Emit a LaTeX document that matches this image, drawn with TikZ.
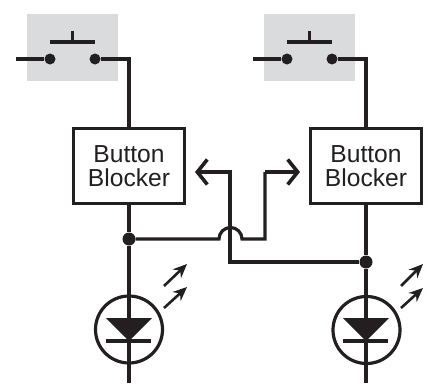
\documentclass[tikz,border=0pt]{standalone}
\usepackage{fontspec}
\setmainfont{Liberation Sans}
\usetikzlibrary{arrows.meta,positioning}
\definecolor{ink}{RGB}{35,31,32}
\definecolor{panel}{RGB}{218,219,221}
\tikzset{
  wire/.style={draw=ink,line width=3.2pt},
  blockerbox/.style={draw=ink,line width=3.6pt,fill=white,text=ink,font=\fontsize{24.6}{23.5}\selectfont,align=center,minimum width=111pt,minimum height=75pt,inner sep=0pt},
  panelbox/.style={fill=panel,minimum width=91pt,minimum height=67pt,inner sep=0pt},
  contact/.style={circle,fill=ink,minimum size=11pt,inner sep=0pt},
  junction/.style={circle,fill=ink,minimum size=13pt,inner sep=0pt},
  ledring/.style={circle,draw=ink,line width=3.2pt,minimum size=67pt,inner sep=0pt},
  feedback/.style={wire,-{Straight Barb[length=10pt,width=25pt,line width=3.6pt]}},
  lightray/.style={draw=ink,line width=2.6pt,-{Stealth[length=14pt,width=12pt]}}
}
\begin{document}
\begin{tikzpicture}[x=1pt,y=-1pt]
        \useasboundingbox (0,0) rectangle (428,383);
        % switches
        \node[panelbox] (panelL) at (72.5,47.5) {};
        \node[panelbox] (panelR) at (309.5,47.5) {};
        \node[contact] (inL) at (50,59) {};
        \node[contact] (outL) at (95,59) {};
        \node[contact] (inR) at (287,59) {};
        \node[contact] (outR) at (332,59) {};
        \coordinate (feedL) at (16,59); \coordinate (feedR) at (253,59);
        \coordinate (capL) at (72.5,42); \coordinate (capR) at (309.5,42);
        \draw[wire] (feedL) -- (inL); \draw[wire] (feedR) -- (inR);
        \draw[wire] (inL |- capL) -- (outL |- capL); \draw[wire] (inR |- capR) -- (outR |- capR);
        \draw[wire] (capL) -- ++(0,-11); \draw[wire] (capR) -- ++(0,-11);
        % blockers
        \node[blockerbox] (blockL) at (129,166) {Button\\Blocker};
        \node[blockerbox] (blockR) at (366,166) {Button\\Blocker};
        \draw[wire] (outL) -| (blockL.north); \draw[wire] (outR) -| (blockR.north);
        % leds
        \node[ledring] (ledL) at (129,329.5) {};
        \node[ledring] (ledR) at (366.5,330) {};
        \node[junction] (juncL) at (129,239) {};
        \node[junction] (juncR) at (366,262) {};
        \coordinate (endL) at (129,383); \coordinate (endR) at (366,383);
        \draw[wire] (blockL.south) -- (juncL) -- (endL);
        \draw[wire] (blockR.south) -- (juncR) -- (endR);
        \fill[ink] (106,318) -- (152,318) -- (129,341) -- cycle;
        \fill[ink] (343,318) -- (389,318) -- (366,341) -- cycle;
        \draw[wire] (106,341) -- (151,341); \draw[wire] (343,341) -- (388,341);
        % cross links
        \coordinate (hopL) at (219,239); \coordinate (hopR) at (242,239);
        \coordinate (riseR) at (265,172); \coordinate (tipR) at (300,172);
        \coordinate (riseL) at (230,172); \coordinate (tipL) at (195,172);
        \draw[wire] (juncL) -- (hopL) arc[start angle=180,end angle=360,radius=11.5] -- (hopR -| riseR) -- (riseR) -- ([xshift=0pt]riseR);
        \draw[feedback] (riseR) -- (tipR);
        \draw[feedback] (juncR) -| (riseL) -- (tipL);
        % light
        \draw[lightray] (164,286) -- (187,264); \draw[lightray] (164,308) -- (187,287);
        \draw[lightray] (401,286) -- (423,264); \draw[lightray] (401,308) -- (423,288);
      \end{tikzpicture}
\end{document}
